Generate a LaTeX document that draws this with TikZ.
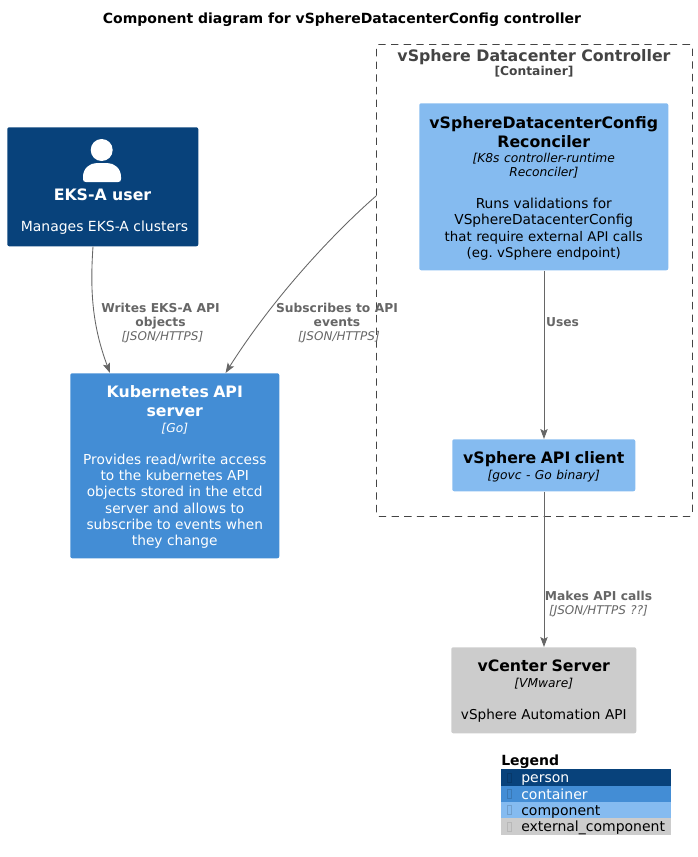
\documentclass[tikz,border=0pt]{standalone}
\usepackage{fontspec}
\setmainfont{DejaVu Sans}
\usetikzlibrary{arrows.meta,calc}
\definecolor{personc}{HTML}{08427B}
\definecolor{containerc}{HTML}{438DD5}
\definecolor{componentc}{HTML}{85BBF0}
\definecolor{externalc}{HTML}{CCCCCC}
\definecolor{relc}{HTML}{666666}
\definecolor{boundc}{HTML}{444444}
\newcommand{\tbf}[1]{{\fontsize{11.8}{14.25}\selectfont\bfseries #1\par}}
\newcommand{\tit}[1]{{\vspace*{1.5pt}\fontsize{9.2}{10.4}\selectfont\itshape #1\par}}
\newcommand{\tds}[2][10.3]{{\vspace*{-0.75pt}\fontsize{#1}{12.25}\selectfont #2\par}}
\newcommand{\rbf}[1]{{\fontsize{9.2}{10.5}\selectfont\bfseries #1\par}}
\newcommand{\rit}[1]{{\fontsize{9}{10.5}\selectfont\itshape #1\par}}
\tikzset{
  x=0.75pt,y=-0.75pt,
  box/.style={rounded corners=1.5pt,inner sep=0pt,anchor=north west},
  boxtext/.style={inner sep=0pt,align=center},
  rel/.style={draw=relc,line width=0.65pt,-{Stealth[length=7.5pt,width=5.5pt,inset=1.5pt]}},
  rellabel/.style={text=relc,align=center,inner sep=0pt,text width=120pt},
  legrow/.style={anchor=north west,inner sep=0pt,minimum width=127.5pt,text width=127.5pt,text height=9.9pt,text depth=2.4pt,align=left,font=\fontsize{10.5}{12}\selectfont},
  legglyph/.style={draw,line width=0.3pt,minimum width=3pt,minimum height=7pt,inner sep=0pt},
}
\begin{document}
\begin{tikzpicture}
\useasboundingbox (0,0) rectangle (697,857);
\coordinate (ya) at (0,196);
\coordinate (xa) at (544,0);
\node[inner sep=0pt,font=\fontsize{10.5}{12}\selectfont\bfseries] (title) at (342,19.5) {Component diagram for vSphereDatacenterConfig controller};

% container boundary
\node[draw=boundc,dash pattern=on 5.5pt off 4pt,line width=0.6pt,rounded corners=2pt,anchor=north west,minimum width=237pt,minimum height=354pt,inner sep=0pt] (boundary) at (376,44) {};
\node[inner sep=0pt,text=boundc,font=\fontsize{11.85}{15}\selectfont\bfseries] (boundt) at (534,57) {vSphere Datacenter Controller};
\node[inner sep=0pt,text=boundc,font=\fontsize{9.2}{11}\selectfont\bfseries] (boundc2) at (534,72) {[Container]};

% person
\node[box,fill=personc,minimum width=143.25pt,minimum height=89.25pt] (user) at (7,127) {};
\fill[white] (101.7,150) circle[radius=11];
\fill[white] (83,177) .. controls (83,168) and (90,163) .. (97,163) -- (107,163) .. controls (114,163) and (121,168) .. (121,177) -- (121,179) .. controls (121,181) and (120,182) .. (118,182) -- (86,182) .. controls (84,182) and (83,181) .. (83,179) -- cycle;
\node[inner sep=0pt,text=white,font=\fontsize{11.8}{14}\selectfont\bfseries] (usert) at (102.5,195) {EKS-A user};
\node[inner sep=0pt,text=white,font=\fontsize{10.45}{12}\selectfont] (userd) at (104.5,228) {Manages EKS-A clusters};

% kubernetes
\node[box,fill=containerc,minimum width=156.75pt,minimum height=138.75pt] (k8s) at (70,373) {};
\node[boxtext,text=white,text width=150pt,yshift=-1.1pt] (k8st) at (k8s.center) {\tbf{Kubernetes API\hspace*{4.5pt}\\server}\tit{[Go]}\tds{\mbox{}\\Provides read/write access\hspace*{3pt}\\to the kubernetes API\\objects stored in the etcd\\server and allows to\\subscribe to events when\\they change}};

% reconciler
\node[box,fill=componentc,minimum width=186.75pt,minimum height=125.25pt] (rec) at (419,103) {};
\node[boxtext,text width=180pt,yshift=-1.1pt] (rect) at (rec.center) {\tbf{vSphereDatacenterConfig\\Reconciler}\tit{[K8s controller-runtime\\Reconciler]}\tds{\mbox{}\\Runs validations for\\VSphereDatacenterConfig\\\fontsize{10}{12.25}\selectfont that require external API calls\\(eg.\ vSphere endpoint)}};

% client
\node[box,fill=componentc,minimum width=137.25pt,minimum height=39pt] (client) at (452,439) {};
\node[boxtext,text width=130pt,yshift=-1.1pt] (clientt) at (client.center) {\tbf{vSphere API client}\tit{[govc - Go binary]}};

% vcenter
\node[box,fill=externalc,minimum width=138.75pt,minimum height=64.5pt] (vc) at (451,647) {};
\node[boxtext,text width=135pt,yshift=-0.6pt] (vct) at (vc.center) {\tbf{vCenter Server}\tit{[VMware]}\tds[10.2]{\mbox{}\\vSphere Automation API}};

% connectors
\draw[rel] ($(user.south west)+(86,0)$) .. controls +(-3,43) and +(-18,-48) .. ($(k8s.north west)+(40,0)$);
\draw[rel] (boundary.west |- ya) .. controls (335,232) and (275,295) .. ($(k8s.north east)+(-54,0)$);
\draw[rel] (xa |- rec.south) -- (xa |- client.north);
\draw[rel] (xa |- client.south) -- (xa |- vc.north);

% connector labels
\node[rellabel] (l1) at (160.5,323) {\rbf{Writes EKS-A API\\objects}\rit{\hspace*{3pt}[JSON/HTTPS]}};
\node[rellabel] (l2) at (337,323) {\rbf{Subscribes to API\\events}\rit{\hspace*{3pt}[JSON/HTTPS]}};
\node[rellabel] (l3) at (562.5,322) {\rbf{Uses}};
\node[rellabel] (l4) at (598.5,604) {\rbf{Makes API calls}\rit{[JSON/HTTPS ??]}};

% legend
\node[inner sep=0pt,anchor=west,font=\fontsize{10.5}{12}\selectfont\bfseries] (legt) at (501,762) {Legend};
\node[legrow,fill=personc,text=white,minimum height=12.9pt] (lg1) at (501,769) {\hspace{15pt}person};
\node[legrow,fill=containerc,text=white,minimum height=12.3pt] (lg2) at (501,786) {\hspace{15pt}container};
\node[legrow,fill=componentc,minimum height=12.3pt] (lg3) at (501,802) {\hspace{15pt}component};
\node[legrow,fill=externalc,minimum height=12.7pt] (lg4) at (501,818) {\hspace{15pt}external\_component};
\node[legglyph,draw=personc!85!black] (g1) at (509,778) {};
\node[legglyph,draw=containerc!85!black] (g2) at (509,794) {};
\node[legglyph,draw=componentc!85!black] (g3) at (509,810) {};
\node[legglyph,draw=externalc!90!black] (g4) at (509,827) {};
\end{tikzpicture}
\end{document}
